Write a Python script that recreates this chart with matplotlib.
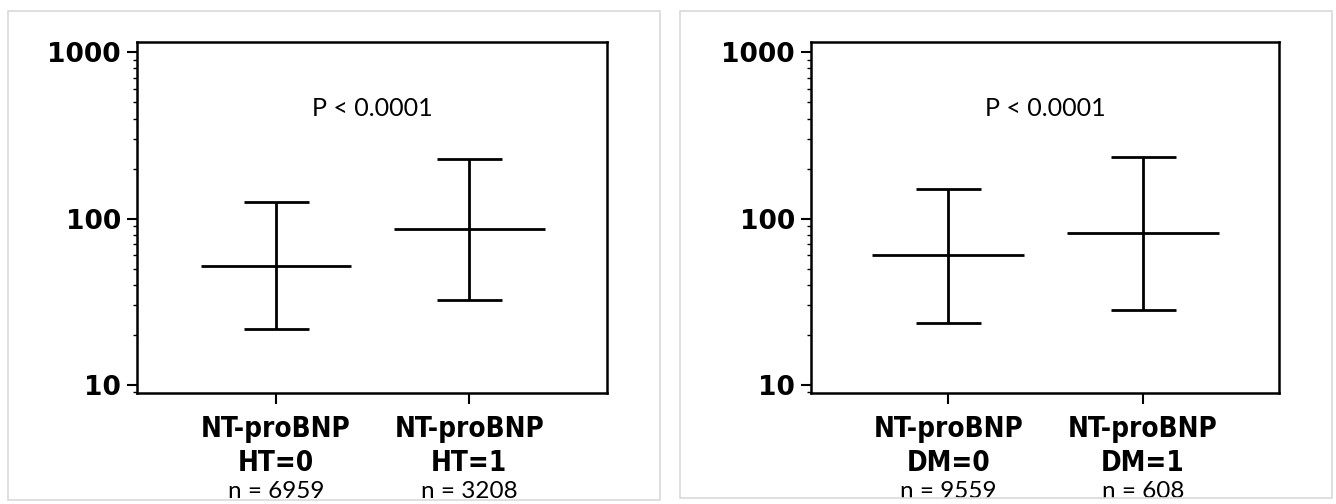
import matplotlib.pyplot as plt
from matplotlib.patches import Rectangle
from matplotlib.ticker import LogLocator, NullFormatter, FixedLocator

# NT-proBNP median with interquartile range, by hypertension and diabetes
ht_groups = ["NT-proBNP\nHT=0", "NT-proBNP\nHT=1"]
ht_n = ["n = 6959", "n = 3208"]
ht_median = [52, 87]
ht_q1 = [21.7, 32.5]
ht_q3 = [126, 229]

dm_groups = ["NT-proBNP\nDM=0", "NT-proBNP\nDM=1"]
dm_n = ["n = 9559", "n = 608"]
dm_median = [60, 82]
dm_q1 = [23.6, 28]
dm_q3 = [151, 235]

p_text = "P < 0.0001"

W, H = 1336, 504
fig = plt.figure(figsize=(W / 100, H / 100), dpi=100)

# light frames around each panel
for x0, x1, y0, y1 in [(8, 660, 11, 500), (680, 1332, 11, 498)]:
    fig.patches.append(Rectangle((x0 / W, 1 - y1 / H), (x1 - x0) / W, (y1 - y0) / H,
                                 transform=fig.transFigure, fill=False,
                                 edgecolor="#d9d9d9", linewidth=1.2))


def panel(left, width, xlim, groups, n_labels, med, q1, q3):
    ax = fig.add_axes([left / W, 1 - 393 / H, width / W, 351 / H])
    ax.set_yscale("log")
    ax.set_ylim(8.91, 1155)
    ax.set_xlim(*xlim)
    pos = [1, 2]
    err = [[m - lo for m, lo in zip(med, q1)], [hi - m for m, hi in zip(med, q3)]]
    ax.errorbar(pos, med, yerr=err, fmt="none", ecolor="black",
                elinewidth=2.0, capsize=23.4, capthick=2.0)
    ax.hlines(med, [p - 0.39 for p in pos], [p + 0.39 for p in pos],
              colors="black", linewidth=2.0)

    ax.yaxis.set_major_locator(FixedLocator([10, 100, 1000]))
    ax.yaxis.set_minor_locator(LogLocator(base=10, subs=range(2, 10)))
    ax.yaxis.set_minor_formatter(NullFormatter())
    ax.set_yticklabels(["10", "100", "1000"], fontsize=19, fontweight="bold",
                       family="DejaVu Sans")
    ax.tick_params(axis="y", which="major", length=7.5, width=1.5, pad=4)
    ax.tick_params(axis="y", which="minor", length=3.2, width=1.0)

    ax.set_xticks(pos)
    ax.set_xticklabels(groups, fontsize=20, fontweight="bold",
                       fontstretch="condensed", linespacing=1.25)
    ax.tick_params(axis="x", length=8, width=1.5, pad=8)
    for p, t in zip(pos, n_labels):
        ax.annotate(t, xy=(p, 0), xycoords=("data", "axes fraction"),
                    xytext=(0, -98), textcoords="offset pixels",
                    ha="center", va="center", fontsize=17.5, family="Lato")

    ax.text(0.5, 0.81, p_text, transform=ax.transAxes, ha="center",
            va="center", fontsize=18, family="Lato")
    for s in ax.spines.values():
        s.set_linewidth(1.8)
    return ax


panel(137, 470, (0.281, 2.712), ht_groups, ht_n, ht_median, ht_q1, ht_q3)
panel(811, 468, (0.294, 2.701), dm_groups, dm_n, dm_median, dm_q1, dm_q3)

fig.savefig("out.png", dpi=100)
